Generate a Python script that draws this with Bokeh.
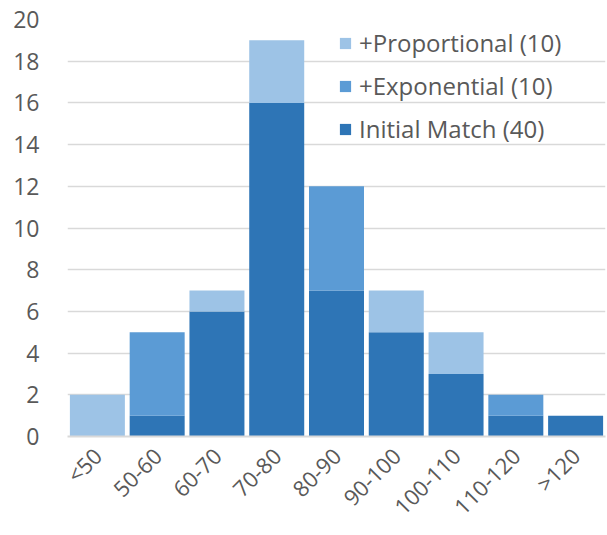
from math import pi
from bokeh.plotting import figure
from bokeh.models import ColumnDataSource, FactorRange, Range1d, Legend, LegendItem, FixedTicker
from bokeh.embed import file_html
from bokeh.resources import INLINE

categories = ["<50", "50-60", "60-70", "70-80", "80-90", "90-100", "100-110", "110-120", ">120"]
initial_match = [0, 1, 6, 16, 7, 5, 3, 1, 1]
exponential = [0, 4, 0, 0, 5, 0, 0, 1, 0]
proportional = [2, 0, 1, 3, 0, 2, 2, 0, 0]
y_ticks = [0, 2, 4, 6, 8, 10, 12, 14, 16, 18, 20]

series = ["initial", "exponential", "proportional"]
labels = ["Initial Match (40)", "+Exponential (10)", "+Proportional (10)"]
colors = ["#2E75B6", "#5B9BD5", "#9DC3E6"]

source = ColumnDataSource(dict(cat=categories, initial=initial_match,
                               exponential=exponential, proportional=proportional))

p = figure(x_range=FactorRange(*categories), y_range=Range1d(0, 20),
           width=607, height=535, output_backend="svg", toolbar_location=None,
           min_border_left=67, min_border_right=2, min_border_top=19, min_border_bottom=99)

renderers = p.vbar_stack(series, x="cat", width=0.92, color=colors, source=source, line_width=0)

font = "Open Sans"
txt = "#595959"
p.outline_line_color = None
p.background_fill_color = "white"

p.yaxis.ticker = FixedTicker(ticks=y_ticks)
p.yaxis.axis_line_color = None
p.yaxis.major_tick_line_color = None
p.yaxis.minor_tick_line_color = None
p.yaxis.major_label_text_font = font
p.yaxis.major_label_text_font_size = "23px"
p.yaxis.major_label_text_color = txt
p.yaxis.major_label_standoff = 22

p.xaxis.axis_line_color = "#D9D9D9"
p.xaxis.axis_line_width = 2
p.xaxis.major_tick_line_color = None
p.xaxis.minor_tick_line_color = None
p.xaxis.major_label_orientation = pi / 4
p.xaxis.major_label_text_font = font
p.xaxis.major_label_text_font_size = "22px"
p.xaxis.major_label_text_color = txt
p.xaxis.major_label_standoff = 9

p.xgrid.grid_line_color = None
p.ygrid.grid_line_color = "#D9D9D9"
p.ygrid.grid_line_width = 1.5

items = [LegendItem(label=labels[i], renderers=[renderers[i]]) for i in (2, 1, 0)]
legend = Legend(items=items, location=(271, 291), orientation="vertical",
                background_fill_alpha=0, border_line_color=None,
                glyph_width=14, glyph_height=14, label_standoff=7,
                label_text_font=font, label_text_font_size="24px", label_text_color=txt,
                label_height=28, spacing=10, padding=0, margin=0)
p.add_layout(legend, "center")

open("out.html", "w").write(file_html(p, INLINE))
